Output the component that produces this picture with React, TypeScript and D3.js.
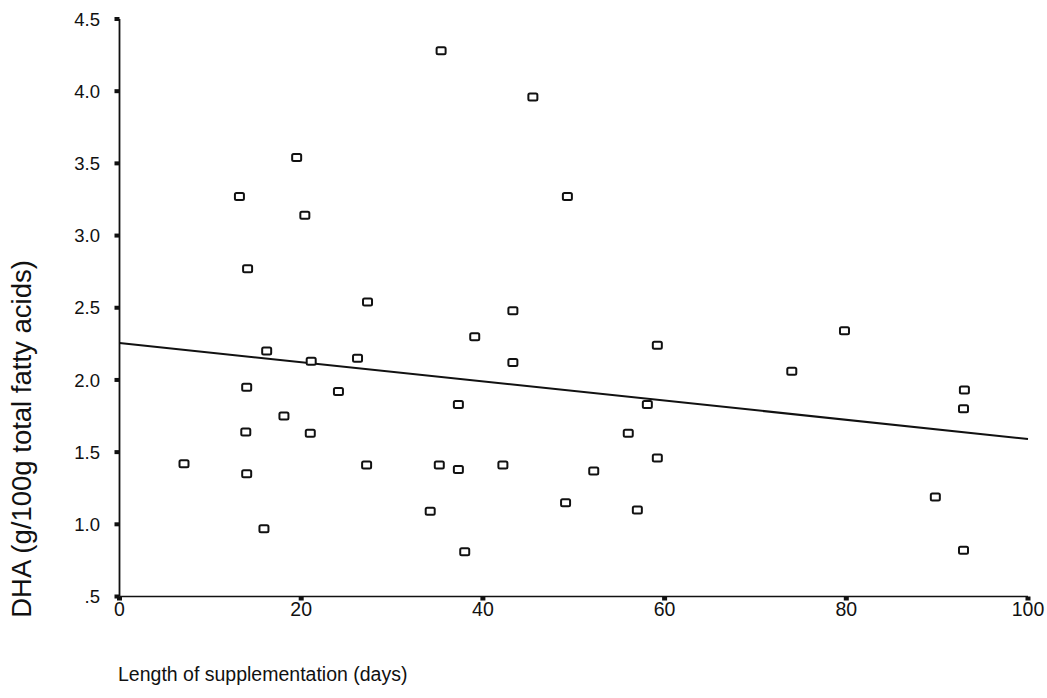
import React from "react";
import * as d3 from "d3";

// Length of supplementation (days) and DHA level for each subject
const days = [
  7.1, 13.2, 14.1, 14.0, 14.0, 13.9, 16.2, 15.9, 19.5, 20.4, 18.1, 21.1, 21.0,
  24.1, 26.2, 27.3, 27.2, 35.4, 34.2, 35.2, 37.3, 37.3, 38.0, 39.1, 42.2, 43.3,
  43.3, 45.5, 49.3, 49.1, 52.2, 56.0, 57.0, 58.1, 59.2, 59.2, 74.0, 79.8, 89.8,
  93.0, 92.9, 92.9,
];
const dha = [
  1.42, 3.27, 2.77, 1.95, 1.35, 1.64, 2.2, 0.97, 3.54, 3.14, 1.75, 2.13, 1.63,
  1.92, 2.15, 2.54, 1.41, 4.28, 1.09, 1.41, 1.83, 1.38, 0.81, 2.3, 1.41, 2.48,
  2.12, 3.96, 3.27, 1.15, 1.37, 1.63, 1.1, 1.83, 2.24, 1.46, 2.06, 2.34, 1.19,
  1.93, 1.8, 0.82,
];

// Fitted regression line: DHA = intercept + slope * days
const fitIntercept = 2.256;
const fitSlope = -0.00665;

const xTicks = [0, 20, 40, 60, 80, 100];
const yTicks = [0.5, 1.0, 1.5, 2.0, 2.5, 3.0, 3.5, 4.0, 4.5];
const yTickLabel = (v: number) => (v < 1 ? ".5" : v.toFixed(1));

const W = 1047;
const H = 698;
const FONT = "Arial, 'Liberation Sans', Helvetica, sans-serif";

export default function App() {
  const x = d3.scaleLinear().domain([0, 100]).range([119.5, 1028]);
  const y = d3.scaleLinear().domain([0.5, 4.5]).range([596.5, 19]);

  const fitLine = d3
    .line<number>()
    .x((d) => x(d))
    .y((d) => y(fitIntercept + fitSlope * d));

  const points = days.map((d, i) => ({ d, v: dha[i] }));

  return (
    <svg
      width={W}
      height={H}
      style={{ position: "absolute", left: 0, top: 0, background: "#fff" }}
      fontFamily={FONT}
    >
      <rect x={0} y={0} width={W} height={H} fill="#fff" />

      {/* axes */}
      <line x1={x(0)} y1={y(4.5)} x2={x(0)} y2={y(0.5)} stroke="#111" strokeWidth={1.8} />
      <line x1={x(0)} y1={y(0.5)} x2={x(100)} y2={y(0.5)} stroke="#111" strokeWidth={1.6} />

      {/* y ticks */}
      {yTicks.map((t) => (
        <g key={"y" + t}>
          <rect x={x(0) - 5} y={y(t) - 2} width={5} height={4} fill="#111" />
          <text
            x={100}
            y={y(t)}
            dy="0.36em"
            textAnchor="end"
            fontSize={18.5}
            fill="#111"
          >
            {yTickLabel(t)}
          </text>
        </g>
      ))}

      {/* x ticks */}
      {xTicks.map((t) => (
        <g key={"x" + t}>
          <rect x={x(t) - 2.5} y={y(0.5)} width={5} height={4} fill="#111" />
          <text x={x(t)} y={616} textAnchor="middle" fontSize={19.5} fill="#111">
            {t}
          </text>
        </g>
      ))}

      {/* regression line */}
      <path d={fitLine([0, 100]) ?? ""} fill="none" stroke="#111" strokeWidth={2} />

      {/* data points */}
      {points.map((p, i) => (
        <rect
          key={i}
          x={x(p.d) - 4.5}
          y={y(p.v) - 3.5}
          width={9}
          height={7}
          rx={1.5}
          fill="#fff"
          stroke="#111"
          strokeWidth={2}
        />
      ))}

      {/* axis titles */}
      <text x={118} y={681} fontSize={19.5} fill="#111">
        Length of supplementation (days)
      </text>
      <text
        transform={`translate(31, 439) rotate(-90)`}
        textAnchor="middle"
        fontSize={27.5}
        fill="#111"
      >
        DHA (g/100g total fatty acids)
      </text>
    </svg>
  );
}
